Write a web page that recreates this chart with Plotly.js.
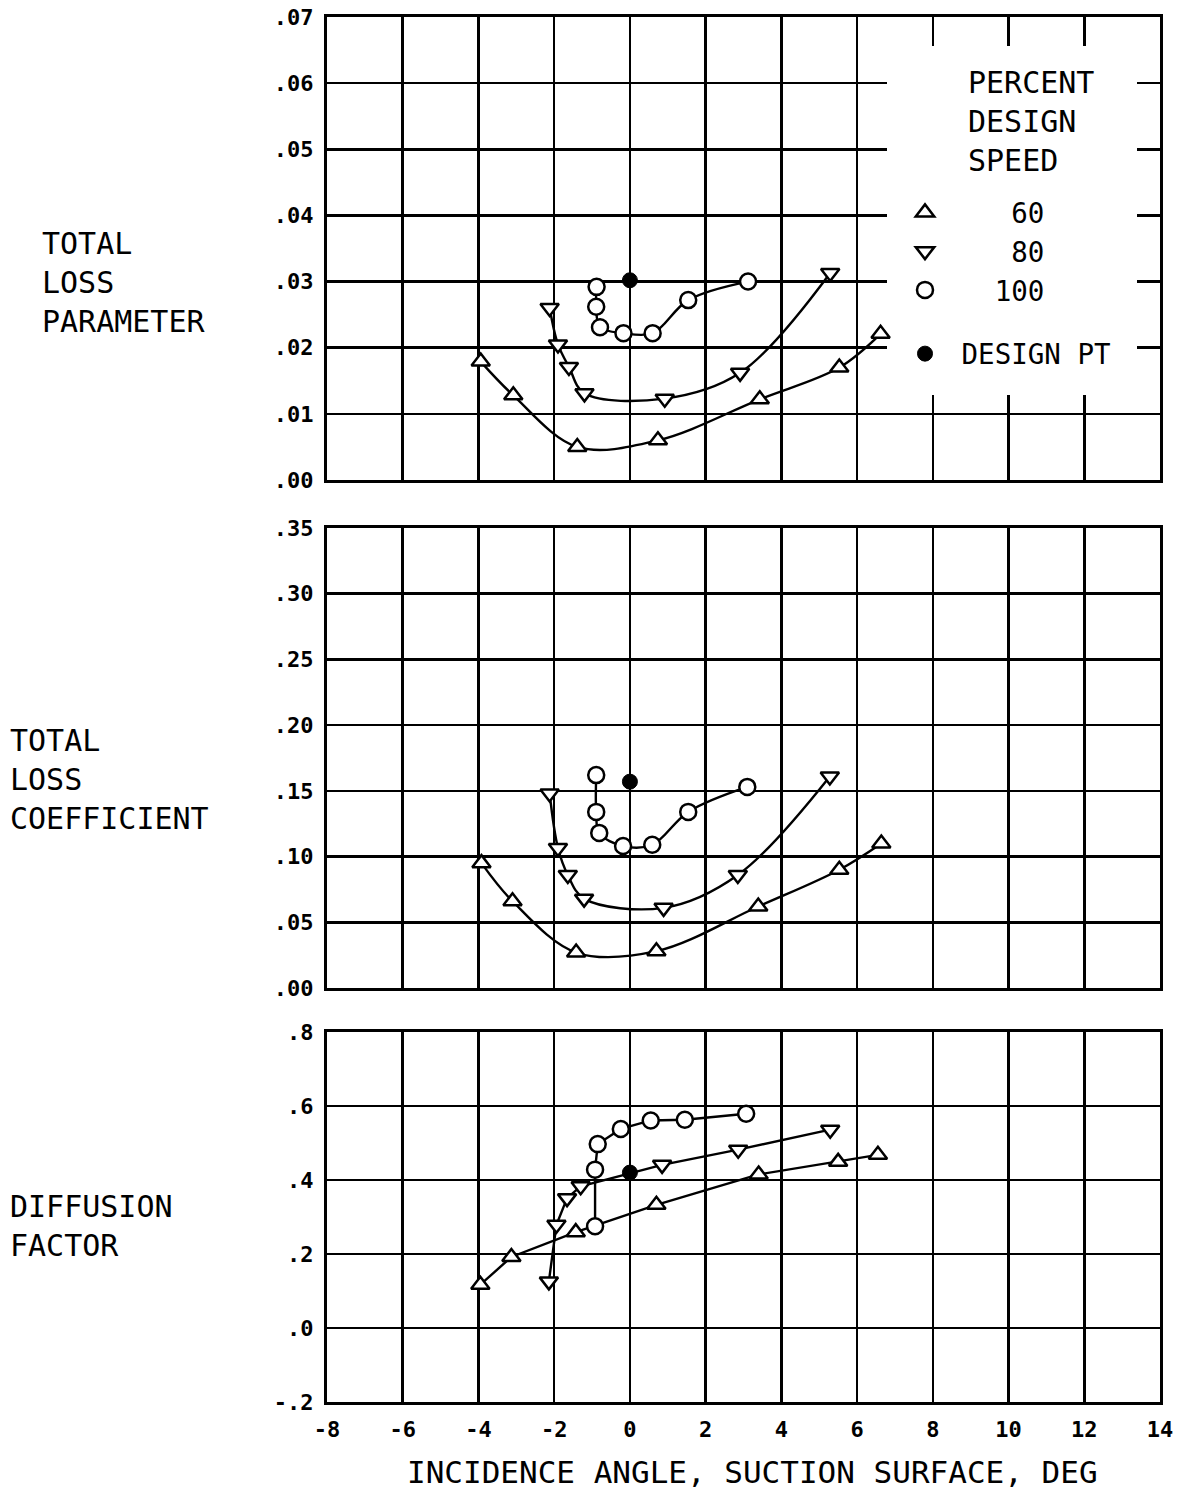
<!DOCTYPE html>
<html><head><meta charset="utf-8">
<script src="https://cdn.plot.ly/plotly-3.0.1.min.js"></script>
<style>body{margin:0;background:#fff}</style>
</head><body><div id="chart" style="width:1183px;height:1489px"></div>
<script>
// ---- data ----
const speedNames = ['60', '80', '100'];
const speedSymbols = ['triangle-up', 'triangle-down', 'circle'];

// TOTAL LOSS PARAMETER
const xParam60 = [-3.94, -3.08, -1.39, 0.74, 3.43, 5.53, 6.62];
const yParam60 = [0.0179, 0.0128, 0.0050, 0.0060, 0.0122, 0.0170, 0.0221];
const xParam80 = [-2.12, -1.90, -1.61, -1.20, 0.92, 2.91, 5.29];
const yParam80 = [0.0260, 0.0205, 0.0171, 0.0131, 0.0123, 0.0162, 0.0313];
const xParam100 = [-0.88, -0.89, -0.79, -0.17, 0.60, 1.54, 3.12];
const yParam100 = [0.0292, 0.0262, 0.0231, 0.0222, 0.0222, 0.0272, 0.0300];
const designParam = {x: [0], y: [0.0302]};

// TOTAL LOSS COEFFICIENT
const xCoef60 = [-3.92, -3.10, -1.42, 0.70, 3.39, 5.53, 6.64];
const yCoef60 = [0.095, 0.066, 0.027, 0.028, 0.062, 0.090, 0.110];
const xCoef80 = [-2.12, -1.90, -1.64, -1.21, 0.89, 2.85, 5.28];
const yCoef80 = [0.148, 0.1065, 0.086, 0.068, 0.061, 0.086, 0.161];
const xCoef100 = [-0.89, -0.89, -0.81, -0.18, 0.59, 1.54, 3.10];
const yCoef100 = [0.162, 0.134, 0.118, 0.108, 0.109, 0.134, 0.153];
const designCoef = {x: [0], y: [0.157]};

// DIFFUSION FACTOR
const xDiff60 = [-3.95, -3.13, -1.43, 0.70, 3.40, 5.50, 6.55];
const yDiff60 = [0.117, 0.192, 0.259, 0.333, 0.415, 0.449, 0.468];
const xDiff80 = [-2.14, -1.94, -1.66, -1.30, 0.85, 2.86, 5.29];
const yDiff80 = [0.126, 0.279, 0.351, 0.383, 0.441, 0.482, 0.536];
const xDiff100 = [-0.92, -0.92, -0.85, -0.24, 0.55, 1.45, 3.07];
const yDiff100 = [0.275, 0.428, 0.497, 0.538, 0.561, 0.563, 0.579];
const designDiff = {x: [0], y: [0.420]};

// axis ticks
const xTickVals = [-8, -6, -4, -2, 0, 2, 4, 6, 8, 10, 12, 14];
const xTickText = ['-8', '-6', '-4', '-2', '0', '2', '4', '6', '8', '10', '12', '14'];
const yParamTickVals = [0, 0.01, 0.02, 0.03, 0.04, 0.05, 0.06, 0.07];
const yParamTickText = ['.00', '.01', '.02', '.03', '.04', '.05', '.06', '.07'];
const yCoefTickVals = [0, 0.05, 0.10, 0.15, 0.20, 0.25, 0.30, 0.35];
const yCoefTickText = ['.00', '.05', '.10', '.15', '.20', '.25', '.30', '.35'];
const yDiffTickVals = [-0.2, 0, 0.2, 0.4, 0.6, 0.8];
const yDiffTickText = ['-.2', '.0', '.2', '.4', '.6', '.8'];

// ---- build traces ----
const FONT = '"DejaVu Sans Mono", "Liberation Mono", monospace';
const panels = [
  {xa: 'x', ya: 'y', shape: 'spline', series: [[xParam60, yParam60], [xParam80, yParam80], [xParam100, yParam100]], design: designParam, legend: true},
  {xa: 'x2', ya: 'y2', shape: 'spline', series: [[xCoef60, yCoef60], [xCoef80, yCoef80], [xCoef100, yCoef100]], design: designCoef, legend: false},
  {xa: 'x3', ya: 'y3', shape: 'linear', series: [[xDiff60, yDiff60], [xDiff80, yDiff80], [xDiff100, yDiff100]], design: designDiff, legend: false}
];
const pad = n => '\u00A0'.repeat(n);
const legendPad = [4, 4, 3];
const traces = [];
panels.forEach(p => {
  p.series.forEach((s, i) => {
    traces.push({x: s[0], y: s[1], xaxis: p.xa, yaxis: p.ya, mode: 'lines', type: 'scatter',
      line: {color: '#000', width: 2.4, shape: p.shape}, showlegend: false, hoverinfo: 'skip'});
  });
});
panels.forEach(p => {
  p.series.forEach((s, i) => {
    traces.push({x: s[0], y: s[1], xaxis: p.xa, yaxis: p.ya, mode: 'markers', type: 'scatter',
      name: pad(legendPad[i]) + speedNames[i], legendgroup: 'speed', showlegend: p.legend,
      marker: {symbol: speedSymbols[i], size: 16, color: '#fff', line: {color: '#000', width: 2.5}}});
  });
  traces.push({x: p.design.x, y: p.design.y, xaxis: p.xa, yaxis: p.ya, mode: 'markers', type: 'scatter',
    name: pad(1) + 'DESIGN PT', legendgroup: 'design', showlegend: p.legend,
    marker: {symbol: 'circle', size: 15, color: '#000', line: {color: '#000', width: 1}}});
});

const axisCommon = {showline: true, mirror: true, linecolor: '#000', linewidth: 3,
  showgrid: true, gridcolor: '#000', gridwidth: 2.5, zeroline: false, ticks: '',
  tickfont: {family: FONT, size: 22, color: '#000', weight: 'bold'}};
const xAxis = (anchor, show) => Object.assign({}, axisCommon, {range: [-8, 14], tickvals: xTickVals,
  ticktext: xTickText, showticklabels: show, anchor: anchor, matches: anchor === 'y' ? undefined : 'x', ticklabelstandoff: 6});
const yAxis = (anchor, domain, range, tv, tt) => Object.assign({}, axisCommon, {domain: domain, range: range,
  tickvals: tv, ticktext: tt, anchor: anchor, ticklabelstandoff: 6});

const plotTop = 17, plotBot = 1402, H = plotBot - plotTop;
const py = v => (plotBot - v) / H;
const px = v => (v - 327) / 833;
// pixel -> top-panel data coordinates (for the legend's blank panel)
const topX = v => -8 + (v - 327) / 833 * 22;
const topY = v => (480 - v) / 463 * 0.07;

const labelFont = {family: FONT, size: 30, color: '#000'};
const layout = {
  width: 1183, height: 1489, paper_bgcolor: '#fff', plot_bgcolor: '#fff',
  margin: {l: 327, r: 23, t: plotTop, b: 1489 - plotBot},
  xaxis: xAxis('y', false), xaxis2: xAxis('y2', false), xaxis3: xAxis('y3', true),
  yaxis: yAxis('x', [py(480), 1], [0, 0.07], yParamTickVals, yParamTickText),
  yaxis2: yAxis('x2', [py(988), py(528)], [0, 0.35], yCoefTickVals, yCoefTickText),
  yaxis3: yAxis('x3', [0, py(1032)], [-0.2, 0.8], yDiffTickVals, yDiffTickText),
  showlegend: true,
  legend: {x: px(905), y: py(188), xanchor: 'left', yanchor: 'top', bgcolor: 'rgba(0,0,0,0)',
    font: {family: FONT, size: 27.5, color: '#000'}, traceorder: 'grouped', tracegroupgap: 25},
  shapes: [{type: 'rect', xref: 'x', yref: 'y', x0: topX(887), x1: topX(1137), y0: topY(395), y1: topY(46),
    fillcolor: '#fff', line: {width: 0}, layer: 'between'}],
  annotations: [
    {text: 'PERCENT<br>DESIGN<br>SPEED', xref: 'paper', yref: 'paper', x: px(966), y: py(122), xanchor: 'left', yanchor: 'middle', align: 'left', showarrow: false, font: labelFont},
    {text: 'TOTAL<br>LOSS<br>PARAMETER', xref: 'paper', yref: 'paper', x: px(40), y: py(283), xanchor: 'left', yanchor: 'middle', align: 'left', showarrow: false, font: labelFont},
    {text: 'TOTAL<br>LOSS<br>COEFFICIENT', xref: 'paper', yref: 'paper', x: px(8), y: py(779), xanchor: 'left', yanchor: 'middle', align: 'left', showarrow: false, font: labelFont},
    {text: 'DIFFUSION<br>FACTOR', xref: 'paper', yref: 'paper', x: px(8), y: py(1226), xanchor: 'left', yanchor: 'middle', align: 'left', showarrow: false, font: labelFont},
    {text: 'INCIDENCE ANGLE, SUCTION SURFACE, DEG', xref: 'paper', yref: 'paper', x: px(752), y: py(1472), xanchor: 'center', yanchor: 'middle', showarrow: false, font: {family: FONT, size: 31, color: '#000'}}
  ]
};
Plotly.newPlot('chart', traces, layout, {displayModeBar: false, staticPlot: true});
</script></body></html>
